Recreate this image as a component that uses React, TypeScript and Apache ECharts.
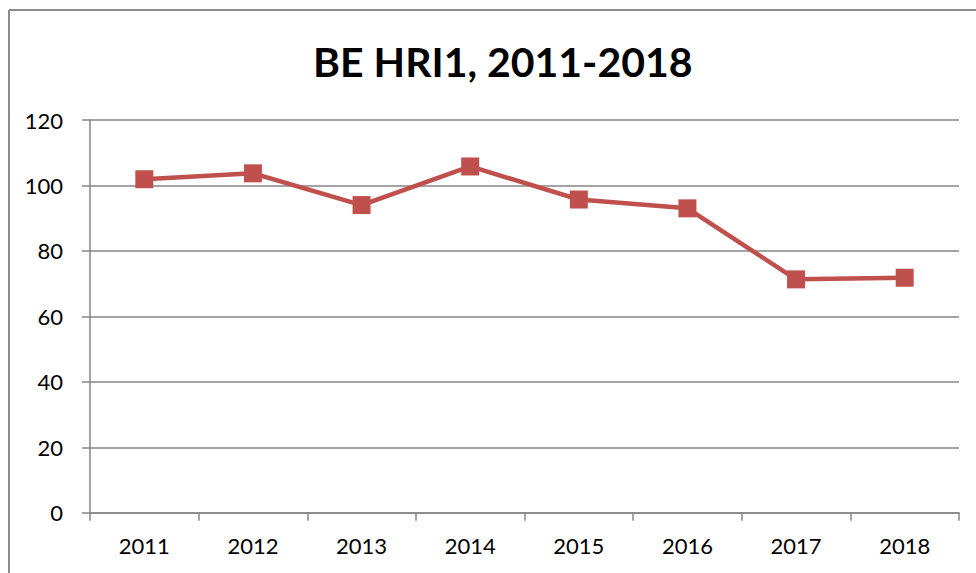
import React, { useEffect, useRef } from "react";
import * as echarts from "echarts";

const years = ["2011", "2012", "2013", "2014", "2015", "2016", "2017", "2018"];
const hri1Values = [101.9, 103.7, 94.0, 105.8, 95.7, 93.0, 71.3, 71.8];
const yTicks = { min: 0, max: 120, interval: 20 };
const titleText = "BE HRI1, 2011-2018";

export default function App() {
  const ref = useRef<HTMLDivElement>(null);
  useEffect(() => {
    if (!ref.current) return;
    const chart = echarts.init(ref.current, undefined, { renderer: "svg" });
    const font = "Lato";
    chart.setOption({
      animation: false,
      backgroundColor: "#ffffff",
      title: {
        text: titleText,
        left: 308,
        top: 36,
        textStyle: { fontFamily: font, fontWeight: "bold", fontSize: 41, color: "#000" },
      },
      graphic: [
        { type: "line", shape: { x1: 9, y1: 10, x2: 9, y2: 573 }, style: { stroke: "#8c8c8c", lineWidth: 2 } },
        { type: "line", shape: { x1: 9, y1: 10, x2: 976, y2: 10 }, style: { stroke: "#8c8c8c", lineWidth: 2 } },
      ],
      grid: { left: 90, right: 17, top: 120, bottom: 60.3, containLabel: false },
      xAxis: {
        type: "category",
        data: years,
        boundaryGap: true,
        axisLine: { lineStyle: { color: "#868686", width: 1.5 } },
        axisTick: { show: true, length: 8, alignWithLabel: false, lineStyle: { color: "#868686", width: 1.5 } },
        axisLabel: { color: "#000", fontFamily: font, fontSize: 22, margin: 22 },
      },
      yAxis: {
        type: "value",
        min: yTicks.min,
        max: yTicks.max,
        interval: yTicks.interval,
        axisLine: { show: true, lineStyle: { color: "#868686", width: 1.5 } },
        axisTick: { show: true, length: 8, lineStyle: { color: "#868686", width: 1.5 } },
        splitLine: { show: true, lineStyle: { color: "#868686", width: 1.5 } },
        axisLabel: { color: "#000", fontFamily: font, fontSize: 22, margin: 27 },
      },
      series: [
        {
          type: "line",
          data: hri1Values,
          symbol: "rect",
          symbolSize: 18,
          itemStyle: { color: "#C0504D" },
          lineStyle: { color: "#C0504D", width: 4.5 },
        },
      ],
    });
    return () => chart.dispose();
  }, []);
  return (
    <div
      ref={ref}
      style={{ position: "absolute", left: 0, top: 0, width: 976, height: 573 }}
    />
  );
}
